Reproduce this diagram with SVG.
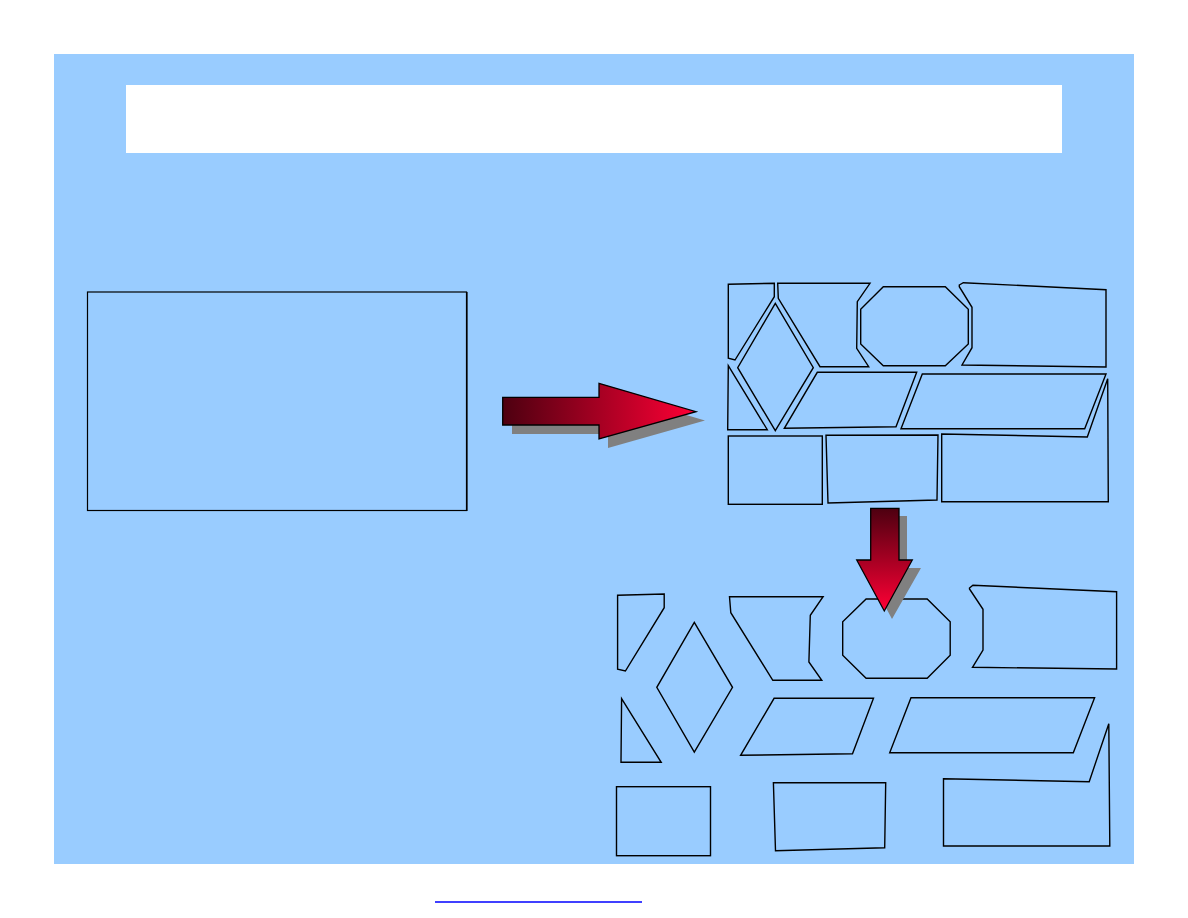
<svg xmlns="http://www.w3.org/2000/svg" width="1188" height="918" viewBox="0 0 1188 918">
<style>
.pc{fill:none;stroke:#000;stroke-width:1.4;stroke-linejoin:miter}
.sh{fill:#808080}
.ar{stroke:#000;stroke-width:1.3}
</style>
<defs>
<linearGradient id="gh" x1="0" y1="0" x2="1" y2="0">
<stop offset="0" stop-color="#4d0010"/>
<stop offset="1" stop-color="#ff0035"/>
</linearGradient>
<linearGradient id="gv" x1="0" y1="0" x2="0" y2="1">
<stop offset="0" stop-color="#4d0010"/>
<stop offset="1" stop-color="#ff0035"/>
</linearGradient>
</defs>
<rect x="0" y="0" width="1188" height="918" fill="#ffffff"/>
<rect x="54" y="54" width="1080" height="810" fill="#99ccff"/>
<g id="title-box"><rect x="126" y="85" width="936" height="68" fill="#ffffff"/></g>
<g id="left-box">
<rect x="87.5" y="292" width="379" height="218.5" fill="none" stroke="#000" stroke-width="1.2"/>
<line x1="467" y1="292" x2="467" y2="511" stroke="#000" stroke-width="1.2"/>
</g>
<g id="assembled">
<polygon class="pc" points="728.3,284.3 774.3,283.3 774.3,296.7 735,360 728.3,358.3"/>
<polygon class="pc" points="777.7,283.3 870,283.3 857.3,301.7 856.7,348.3 868.7,366.7 820,366.7 778.3,298.3"/>
<polygon class="pc" points="775.3,303.3 813.3,367.7 775.3,430.7 737.7,367.7"/>
<polygon class="pc" points="883.3,286.7 945.3,286.7 968.3,309.3 968.3,344 945.3,365.7 883.3,365.7 860.7,344 860.7,309.3"/>
<polygon class="pc" points="959.3,285 963.3,282.7 1106,289.7 1106,367 962,365 972,347.7 972,307.3 959.3,286.7"/>
<polygon class="pc" points="728.3,365.7 767.3,429.7 727.7,429.7"/>
<polygon class="pc" points="817.3,372.3 916.7,372.3 896,426.7 784.3,428.3"/>
<polygon class="pc" points="922.3,374 1106,374 1084.7,428.7 901,428.7"/>
<rect class="pc" x="728.3" y="436" width="94" height="68.3"/>
<polygon class="pc" points="826,435.3 938,435 937,500 828,503"/>
<polygon class="pc" points="941.7,434 1087.3,437 1107.7,378.7 1108.3,501.7 941.7,501.7"/>
</g>
<g id="scattered">
<polygon class="pc" points="617.6,595.3 664.2,594 664.2,607.7 625.4,671 617.6,669.3"/>
<polygon class="pc" points="694.3,622.3 732.5,687.3 694.3,752 656.8,687.3"/>
<polygon class="pc" points="729.5,596.7 823.1,596.7 810.3,615.3 808.9,662 821.8,680.3 772.8,680.3 730.8,612.7"/>
<polygon class="pc" points="866.1,599 927.2,599 950.2,621.7 950.2,655.3 927.2,678.3 866.1,678.3 842.7,655.3 842.7,621.7"/>
<polygon class="pc" points="969.5,588 972.9,585.3 1116.6,591.7 1116.6,669 972.5,667.3 983,650 983,609.3 969.5,589"/>
<polygon class="pc" points="621.6,698.7 661.2,762.3 621,762.3"/>
<polygon class="pc" points="774.1,698.3 873.5,698.3 852.5,753.7 740.6,755.3"/>
<polygon class="pc" points="911,697.7 1094.6,697.7 1073.3,752.7 889.7,752.7"/>
<rect class="pc" x="616.5" y="786.7" width="94" height="69"/>
<polygon class="pc" points="773.4,782.7 885.7,782.7 884.7,847.7 775.5,850.7"/>
<polygon class="pc" points="943.5,778.7 1089.2,781.7 1108.8,723.7 1109.8,846 943.5,846"/>
</g>
<g id="connectors">
<g id="arrow-right">
<polygon class="sh" points="512,406 608,406 608,392 705,420.5 608,448 608,434 512,434"/>
<polygon class="ar" fill="url(#gh)" points="502.7,397.3 599,397.3 599,383.3 696,411.7 599,439 599,425 502.7,425"/>
</g>
<g id="arrow-down">
<polygon class="sh" points="879,516 907,516 907,568 921,568 892,619 864.5,568 879,568"/>
<polygon class="ar" fill="url(#gv)" points="870.7,508.3 899,508.3 899,560 912.3,560 884.3,611 856.7,560 870.7,560"/>
</g>
</g>
<line x1="435" y1="902" x2="642" y2="902" stroke="#0000ff" stroke-width="1.3"/>
</svg>
